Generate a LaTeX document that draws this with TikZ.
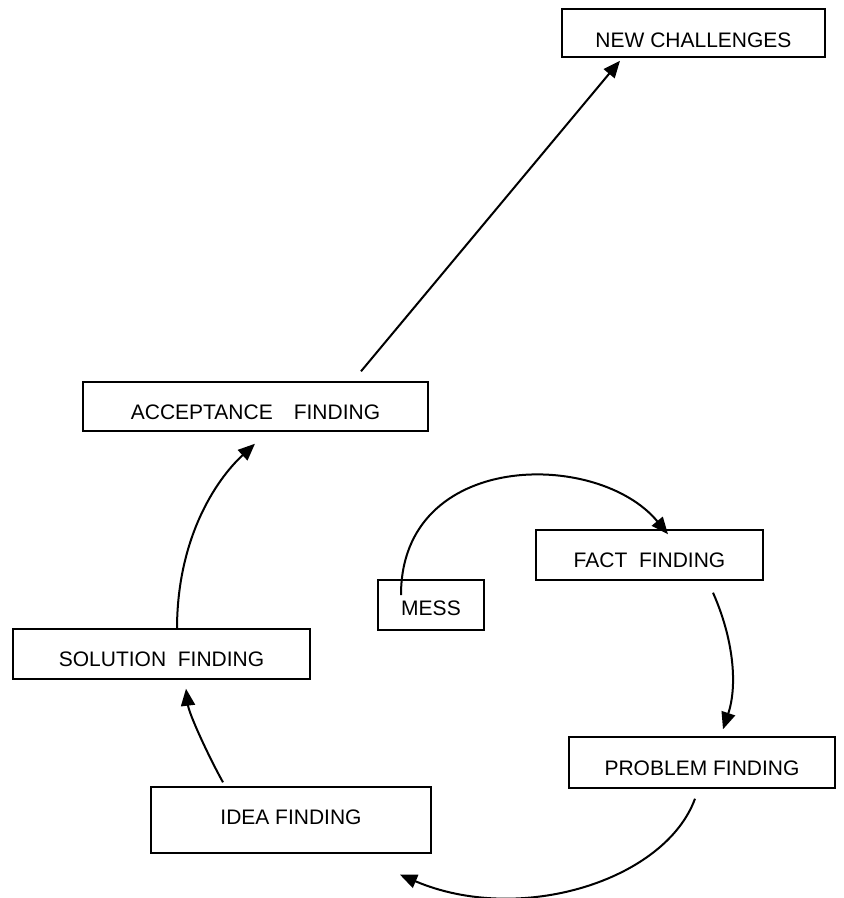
\documentclass[tikz,border=0pt]{standalone}
\usepackage{fontspec}
\setmainfont{Liberation Sans}
\usetikzlibrary{arrows.meta}

\begin{document}
\begin{tikzpicture}[x=1pt, y=-1pt,
    stagebox/.style={draw, rectangle, line width=1.4pt, inner sep=0pt, text height=25pt, text depth=0pt, font=\fontsize{21}{25}\selectfont},
    flow/.style={-{Triangle[length=17pt, width=14pt]}, line width=2pt}]
  \useasboundingbox (0,0) rectangle (844,898);

  \node[stagebox, minimum width=263pt, minimum height=48pt, text height=29pt] (new) at (693.5,33) {NEW CHALLENGES};
  \node[stagebox, minimum width=345pt, minimum height=49pt] (accept) at (255.5,406.5) {ACCEPTANCE\quad FINDING};
  \node[stagebox, minimum width=227pt, minimum height=50pt] (fact) at (649.5,555) {FACT\ \ FINDING};
  \node[stagebox, minimum width=106pt, minimum height=50pt, text height=21pt] (mess) at (431,605) {MESS};
  \node[stagebox, minimum width=297pt, minimum height=50pt] (solution) at (161.5,654) {SOLUTION\ \ FINDING};
  \node[stagebox, minimum width=266pt, minimum height=51pt] (problem) at (702,762.5) {PROBLEM FINDING};
  \node[stagebox, minimum width=280pt, minimum height=66pt, text height=15pt, text depth=6pt] (idea) at (291,820) {IDEA FINDING};

  % the cycle
  \draw[flow] ([shift={(-30,-10)}]mess.center) .. controls +(0,-145) and +(-70,-85) .. ([shift={(18.5,5)}]fact.north);
  \draw[flow] ([shift={(63.5,12)}]fact.south) .. controls +(20,45) and +(15,-45) .. ([shift={(21,-7)}]problem.north);
  \draw[flow] ([shift={(-7,10)}]problem.south) .. controls +(-30,82) and +(120,51) .. ([shift={(109,21)}]idea.south);
  \draw[flow] ([shift={(-68,-4)}]idea.north) .. controls +(-15,-27) and +(3,25) .. ([shift={(24.5,9)}]solution.south);
  \draw[flow] ([shift={(15.5,1)}]solution.north) .. controls +(0,-90) and +(-40,37) .. ([shift={(-0.5,12)}]accept.south);
  \draw[flow] ([shift={(105.5,-10)}]accept.north) -- ([shift={(-73.5,3)}]new.south);
\end{tikzpicture}
\end{document}
